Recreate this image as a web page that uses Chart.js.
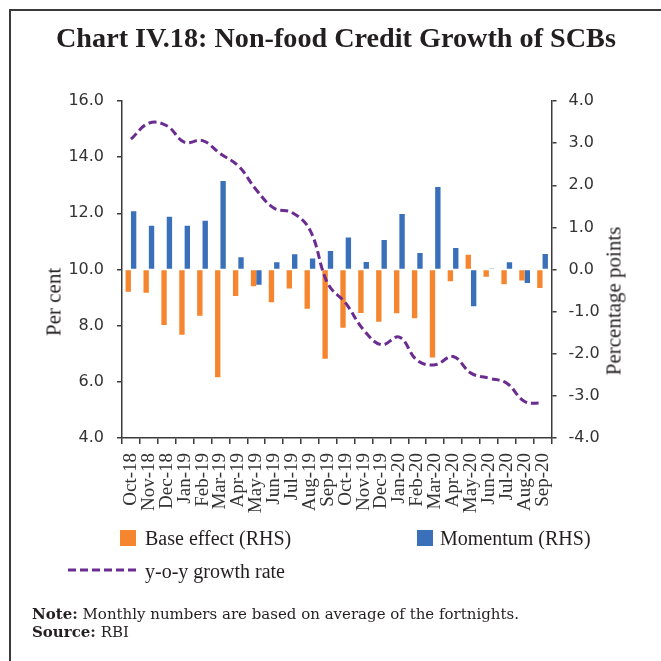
<!DOCTYPE html>
<html>
<head>
<meta charset="utf-8">
<script src="https://cdn.jsdelivr.net/npm/chart.js@4/dist/chart.umd.min.js"></script>
<style>
  html, body { margin:0; padding:0; background:#fff; }
  body { width:661px; height:661px; position:relative; overflow:hidden; font-family:"Liberation Serif", serif; color:#231f20; }
  #frame { position:absolute; left:9px; top:9px; width:700px; height:700px; border-left:2px solid #3a3a3a; border-top:2px solid #3a3a3a; }
  #cv { position:absolute; left:0; top:0; }
  .t { position:absolute; white-space:nowrap; line-height:1; }
  #title { left:56px; top:24px; font-weight:bold; font-size:28.2px; }
  .ax { position:absolute; white-space:nowrap; font-size:21px; transform:translate(-50%,-50%) rotate(-90deg); }
  .leg { position:absolute; font-size:20px; white-space:nowrap; line-height:1; }
  .sw { position:absolute; width:16px; height:16px; }
  #note { left:32px; top:605px; font-size:15px; line-height:18px; font-family:"DejaVu Serif", serif; }
</style>
</head>
<body>
<div id="frame"></div>
<canvas id="cv" width="661" height="661"></canvas>
<div class="t" id="title">Chart IV.18: Non-food Credit Growth of SCBs</div>
<div class="ax" style="left:54px; top:302px;">Per cent</div>
<div class="ax" style="left:614px; top:301px;">Percentage points</div>
<div id="legend"></div>
<div class="t" id="note"><b>Note:</b> Monthly numbers are based on average of the fortnights.<br><b>Source:</b> RBI</div>
<script>
const months = ["Oct-18","Nov-18","Dec-18","Jan-19","Feb-19","Mar-19","Apr-19","May-19","Jun-19","Jul-19","Aug-19","Sep-19",
                "Oct-19","Nov-19","Dec-19","Jan-20","Feb-20","Mar-20","Apr-20","May-20","Jun-20","Jul-20","Aug-20","Sep-20"];
const baseEffect = [-0.53,-0.55,-1.32,-1.55,-1.10,-2.56,-0.63,-0.40,-0.78,-0.45,-0.93,-2.12,
                    -1.38,-1.03,-1.24,-1.04,-1.16,-2.09,-0.28,0.35,-0.17,-0.35,-0.26,-0.44];
const momentum = [1.38,1.04,1.25,1.04,1.16,2.10,0.29,-0.36,0.17,0.36,0.26,0.44,
                  0.76,0.18,0.70,1.32,0.39,1.96,0.51,-0.87,0.01,0.17,-0.32,0.37];
const yoyGrowth = [14.64,15.21,15.12,14.53,14.59,14.12,13.69,12.84,12.18,12.03,11.41,9.50,
                   8.80,7.85,7.32,7.59,6.76,6.61,6.90,6.31,6.13,5.95,5.30,5.24];
const leftTicks = [4,6,8,10,12,14,16];
const rightTicks = [-4,-3,-2,-1,0,1,2,3,4];
const seriesNames = ["Base effect (RHS)","Momentum (RHS)","y-o-y growth rate"];

const ORANGE = "#F5862F", BLUE = "#3A6FB9", PURPLE = "#6A2C91", AXIS = "#3a3a3a", TXT = "#333333";

new Chart(document.getElementById("cv"), {
  data: {
    labels: months,
    datasets: [
      { type:"bar", label:seriesNames[0], data:baseEffect, yAxisID:"y1", backgroundColor:ORANGE, borderWidth:0, order:1,
        categoryPercentage:0.6, barPercentage:1.0 },
      { type:"bar", label:seriesNames[1], data:momentum, yAxisID:"y1", backgroundColor:BLUE, borderWidth:0, order:1,
        categoryPercentage:0.6, barPercentage:1.0 },
      { type:"line", label:seriesNames[2], data:yoyGrowth, yAxisID:"y", borderColor:PURPLE, borderWidth:3,
        borderDash:[8,4], pointRadius:0, tension:0.4, fill:false, order:0 }
    ]
  },
  options: {
    responsive:false, animation:false, devicePixelRatio:1,
    layout:{ padding:{ top:101, left:0, right:0, bottom:0 } },
    plugins:{ legend:{display:false}, tooltip:{enabled:false}, title:{display:false} },
    scales:{
      x:{
        type:"category", offset:true,
        grid:{ display:true, drawOnChartArea:false, drawTicks:true, tickLength:6, color:AXIS, lineWidth:1.5, offset:true },
        border:{ display:true, color:AXIS, width:1.5 },
        ticks:{ autoSkip:false, maxRotation:90, minRotation:90, padding:9, color:TXT,
                font:{ family:"Liberation Serif", size:19 } },
        afterFit(s){ s.height = 661 - 438; }
      },
      y:{
        type:"linear", position:"left", min:leftTicks[0], max:leftTicks[leftTicks.length-1],
        afterBuildTicks(s){ s.ticks = leftTicks.map(v=>({value:v})); },
        grid:{ drawOnChartArea:false, drawTicks:true, tickLength:5, color:AXIS, lineWidth:1.5 },
        border:{ display:true, color:AXIS, width:1.5 },
        ticks:{ padding:13, color:TXT, font:{ family:"DejaVu Sans", size:16 }, callback:v=>Number(v).toFixed(1) },
        afterFit(s){ s.width = 122; }
      },
      y1:{
        type:"linear", position:"right", min:rightTicks[0], max:rightTicks[rightTicks.length-1],
        afterBuildTicks(s){ s.ticks = rightTicks.map(v=>({value:v})); },
        grid:{ drawOnChartArea:false, drawTicks:true, tickLength:5, color:AXIS, lineWidth:1.5 },
        border:{ display:true, color:AXIS, width:1.5 },
        ticks:{ padding:12, color:TXT, font:{ family:"DejaVu Sans", size:16 }, callback:v=>Number(v).toFixed(1) },
        afterFit(s){ s.width = 661 - 551.5; }
      }
    }
  }
});

// HTML legend built from the series names / colours
const leg = document.getElementById("legend");
function add(html){ leg.insertAdjacentHTML("beforeend", html); }
add(`<div class="sw" style="left:120px; top:530px; background:${ORANGE}"></div>`);
add(`<div class="leg" style="left:145px; top:528px;">${seriesNames[0]}</div>`);
add(`<div class="sw" style="left:417px; top:530px; background:${BLUE}"></div>`);
add(`<div class="leg" style="left:440px; top:528px;">${seriesNames[1]}</div>`);
add(`<svg style="position:absolute; left:66px; top:566px;" width="74" height="8"><line x1="2" y1="4" x2="72" y2="4" stroke="${PURPLE}" stroke-width="3" stroke-dasharray="8,4"/></svg>`);
add(`<div class="leg" style="left:145px; top:561px;">${seriesNames[2]}</div>`);
</script>
</body>
</html>
